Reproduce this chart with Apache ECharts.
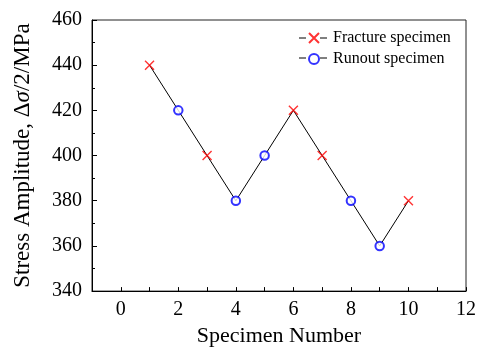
<!DOCTYPE html>
<html>
<head>
<meta charset="utf-8">
<script src="https://cdn.jsdelivr.net/npm/echarts@6/dist/echarts.min.js"></script>
<style>html,body{margin:0;padding:0;background:#fff;}#c{width:481px;height:352px;}</style>
</head>
<body>
<div id="c"></div>
<script>
// Data
const specimenNumbers = [1, 2, 3, 4, 5, 6, 7, 8, 9, 10];
const stressAmplitudes = [440, 420, 400, 380, 400, 420, 400, 380, 360, 380];
const specimenResults = ['F', 'R', 'F', 'R', 'R', 'F', 'F', 'R', 'R', 'F'];
const xTickLabels = [0, 2, 4, 6, 8, 10, 12];
const yTickLabels = [340, 360, 380, 400, 420, 440, 460];
const seriesNames = ['Fracture specimen', 'Runout specimen'];

const allPoints = specimenNumbers.map((n, i) => [n, stressAmplitudes[i]]);
const fracturePts = allPoints.filter((p, i) => specimenResults[i] === 'F');
const runoutPts = allPoints.filter((p, i) => specimenResults[i] === 'R');

const FONT = 'Liberation Serif';
const xPath = 'path://M0,0L10,10M10,0L0,10';

const chart = echarts.init(document.getElementById('c'), null, {renderer: 'canvas'});
chart.setOption({
  backgroundColor: '#fff',
  animation: false,
  textStyle: {fontFamily: FONT},
  grid: {left: 92, right: 15, top: 20, bottom: 55, show: true, borderColor: '#222', borderWidth: 1, backgroundColor: 'transparent'},
  legend: {
    orient: 'vertical', left: 308, top: 30, padding: 0,
    itemWidth: 10, itemHeight: 10, itemGap: 5,
    textStyle: {fontFamily: FONT, fontSize: 16, color: '#000', padding: [0, 0, 0, 9]},
    data: [
      {name: seriesNames[0], icon: xPath},
      {name: seriesNames[1], icon: 'emptyCircle'}
    ]
  },
  xAxis: {
    type: 'value', min: -1, max: 12, interval: 1,
    name: 'Specimen Number', nameLocation: 'middle', nameGap: 27,
    nameTextStyle: {fontFamily: FONT, fontSize: 22, color: '#000'},
    axisLine: {onZero: false, lineStyle: {color: '#000', width: 1}},
    axisTick: {inside: true, length: 4, lineStyle: {color: '#000'}},
    axisLabel: {
      fontFamily: FONT, fontSize: 20, color: '#000', margin: 9,
      formatter: v => (xTickLabels.indexOf(v) >= 0 ? String(v) : '')
    },
    splitLine: {show: false}
  },
  yAxis: {
    type: 'value', min: 340, max: 460, interval: 20,
    name: '{a|Stress Amplitude, Δ}{b|σ}{a|/2/MPa}', nameLocation: 'middle', nameGap: 58,
    nameTextStyle: {
      fontFamily: FONT, fontSize: 23, color: '#000',
      rich: {
        a: {fontFamily: FONT, fontSize: 23, color: '#000'},
        b: {fontFamily: FONT, fontSize: 23, color: '#000', fontStyle: 'italic'}
      }
    },
    axisLine: {onZero: false, lineStyle: {color: '#000', width: 1}},
    axisTick: {inside: true, length: 5, lineStyle: {color: '#000'}},
    minorTick: {show: true, splitNumber: 2, length: 3, lineStyle: {color: '#000'}},
    axisLabel: {
      fontFamily: FONT, fontSize: 20, color: '#000', margin: 10,
      formatter: v => (yTickLabels.indexOf(v) >= 0 ? String(v) : '')
    },
    splitLine: {show: false}
  },
  graphic: [
    {type: 'line', shape: {x1: 299, y1: 38, x2: 306, y2: 38}, style: {stroke: '#000', lineWidth: 1}},
    {type: 'line', shape: {x1: 320, y1: 38, x2: 327, y2: 38}, style: {stroke: '#000', lineWidth: 1}},
    {type: 'line', shape: {x1: 299, y1: 58, x2: 306, y2: 58}, style: {stroke: '#000', lineWidth: 1}},
    {type: 'line', shape: {x1: 320, y1: 58, x2: 327, y2: 58}, style: {stroke: '#000', lineWidth: 1}}
  ],
  series: [
    {
      name: 'connect', type: 'line', data: allPoints, showSymbol: false, symbol: 'none',
      lineStyle: {color: '#000', width: 1}, z: 1, silent: true
    },
    {
      name: seriesNames[0], type: 'scatter', data: fracturePts,
      symbol: xPath, symbolSize: 9,
      itemStyle: {color: '#ff0000', borderColor: '#ff0000', borderWidth: 1.4}, z: 3
    },
    {
      name: seriesNames[1], type: 'scatter', data: runoutPts,
      symbol: 'emptyCircle', symbolSize: 8.5,
      itemStyle: {color: '#0000ff', borderColor: '#0000ff', borderWidth: 1}, z: 3
    }
  ]
});
</script>
</body>
</html>
